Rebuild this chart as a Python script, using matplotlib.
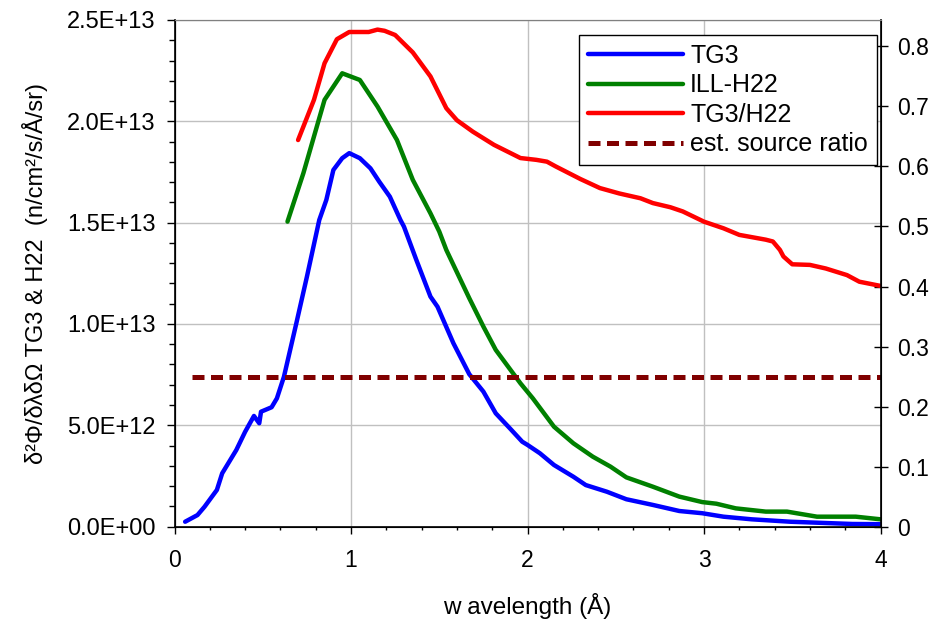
import matplotlib
matplotlib.use("Agg")
import matplotlib.pyplot as plt
from matplotlib.ticker import MultipleLocator, FuncFormatter

plt.rcParams["font.family"] = ["Liberation Sans", "DejaVu Sans"]

# TG3 spectrum (n/cm2/s/A/sr, in units of 1E13)
tg3_wl = [0.06, 0.13, 0.17, 0.24, 0.27, 0.35, 0.40, 0.45, 0.48, 0.49, 0.55, 0.58,
          0.62, 0.69, 0.75, 0.82, 0.86, 0.90, 0.95, 0.99, 1.05, 1.11, 1.16, 1.22,
          1.28, 1.30, 1.37, 1.45, 1.49, 1.58, 1.67, 1.75, 1.82, 1.90, 1.97, 2.00,
          2.07, 2.15, 2.26, 2.33, 2.45, 2.56, 2.71, 2.86, 2.99, 3.11, 3.27, 3.49,
          3.84, 4.00]
tg3_flux = [0.024, 0.057, 0.098, 0.181, 0.263, 0.378, 0.468, 0.546, 0.510, 0.567,
            0.589, 0.633, 0.740, 1.003, 1.233, 1.513, 1.612, 1.760, 1.818, 1.843,
            1.818, 1.768, 1.702, 1.628, 1.513, 1.480, 1.316, 1.135, 1.085, 0.905,
            0.752, 0.666, 0.559, 0.485, 0.419, 0.403, 0.362, 0.304, 0.246, 0.205,
            0.172, 0.135, 0.107, 0.077, 0.066, 0.049, 0.036, 0.024, 0.013, 0.012]

# ILL-H22 spectrum (units of 1E13)
h22_wl = [0.64, 0.73, 0.85, 0.95, 1.05, 1.15, 1.26, 1.35, 1.41, 1.45, 1.50, 1.54,
          1.67, 1.75, 1.82, 1.96, 2.03, 2.15, 2.26, 2.37, 2.47, 2.56, 2.71, 2.86,
          2.99, 3.07, 3.18, 3.35, 3.47, 3.64, 3.86, 4.00]
h22_flux = [1.505, 1.744, 2.106, 2.237, 2.204, 2.073, 1.908, 1.711, 1.612, 1.546,
            1.456, 1.365, 1.127, 0.987, 0.872, 0.707, 0.633, 0.493, 0.411, 0.345,
            0.296, 0.243, 0.197, 0.148, 0.121, 0.113, 0.090, 0.074, 0.074, 0.049,
            0.049, 0.036]

# TG3 / H22 ratio (right axis)
ratio_wl = [0.70, 0.79, 0.85, 0.92, 0.99, 1.10, 1.15, 1.19, 1.25, 1.35, 1.45, 1.54,
            1.60, 1.69, 1.81, 1.96, 2.05, 2.11, 2.16, 2.30, 2.41, 2.52, 2.64, 2.71,
            2.81, 2.88, 3.00, 3.11, 3.20, 3.35, 3.39, 3.43, 3.45, 3.50, 3.60, 3.69,
            3.81, 3.88, 4.00]
ratio = [0.644, 0.711, 0.772, 0.812, 0.824, 0.824, 0.828, 0.826, 0.819, 0.790,
         0.750, 0.697, 0.677, 0.658, 0.636, 0.614, 0.611, 0.608, 0.600, 0.579,
         0.564, 0.555, 0.547, 0.539, 0.532, 0.525, 0.508, 0.497, 0.486, 0.478,
         0.475, 0.461, 0.450, 0.437, 0.436, 0.430, 0.419, 0.408, 0.401]

# estimated source ratio
src_wl = [0.1, 4.0]
src_ratio = [0.25, 0.25]

fig = plt.figure(figsize=(9.47, 6.21), dpi=100)
ax = fig.add_axes([0.1843, 0.152, 0.7455, 0.8158])
ax2 = ax.twinx()

ax.plot(tg3_wl, [v * 1e13 for v in tg3_flux], color="#0000ff", lw=3.2,
        label="TG3", solid_capstyle="round", solid_joinstyle="round")
ax.plot(h22_wl, [v * 1e13 for v in h22_flux], color="#008000", lw=3.2,
        label="ILL-H22", solid_capstyle="round", solid_joinstyle="round")
ax2.plot(ratio_wl, ratio, color="#ff0000", lw=3.2, label="TG3/H22",
         solid_capstyle="round", solid_joinstyle="round")
ax2.plot(src_wl, src_ratio, color="#800000", lw=3.6, ls=(0, (2.4, 1.3)),
         label="est. source ratio")

ax.set_xlim(0, 4)
ax.set_ylim(0, 2.5e13)
ax2.set_ylim(0, 0.844)

ax.xaxis.set_major_locator(MultipleLocator(1))
ax.xaxis.set_minor_locator(MultipleLocator(0.2))
ax.yaxis.set_major_locator(MultipleLocator(5e12))
ax.yaxis.set_minor_locator(MultipleLocator(1e12))
ax.yaxis.set_major_formatter(FuncFormatter(lambda v, p: "%.1E" % v))
ax2.yaxis.set_major_locator(MultipleLocator(0.1))
ax2.yaxis.set_major_formatter(FuncFormatter(lambda v, p: "%g" % round(v, 1)))

ax.grid(True, which="major", color="#c0c0c0", lw=1.0)
ax.set_axisbelow(True)

ax.tick_params(axis="y", which="major", labelsize=17, length=5.5, width=1, pad=8)
ax.tick_params(axis="y", which="minor", length=4.3, width=1)
ax.tick_params(axis="x", which="major", labelsize=16.5, length=5, width=1, pad=11)
ax.tick_params(axis="x", which="minor", length=2.5, width=1)
ax2.tick_params(axis="y", labelsize=16.5, length=10, width=1, direction="inout", pad=7)

ax.spines["top"].set_color("#808080")
ax2.spines["top"].set_color("#808080")
for s in ("left", "bottom"):
    ax.spines[s].set_linewidth(1.2)
ax2.spines["right"].set_linewidth(1.2)

ax.set_xlabel("w avelength (Å)", fontsize=17.5, labelpad=15)
ax.set_ylabel("δ²Φ/δλδΩ TG3 & H22  (n/cm²/s/Å/sr)", fontsize=17, labelpad=14)

h1, l1 = ax.get_legend_handles_labels()
h2, l2 = ax2.get_legend_handles_labels()
leg = ax2.legend(h1 + h2, l1 + l2, loc="upper right", bbox_to_anchor=(0.9945, 0.970),
                 borderaxespad=0, fontsize=18, handlelength=3.8, labelspacing=0.22,
                 handletextpad=0.3, borderpad=0.35, fancybox=False, framealpha=1)
leg.get_frame().set_edgecolor("black")
leg.get_frame().set_linewidth(1.0)

fig.savefig("out.png", dpi=100)
